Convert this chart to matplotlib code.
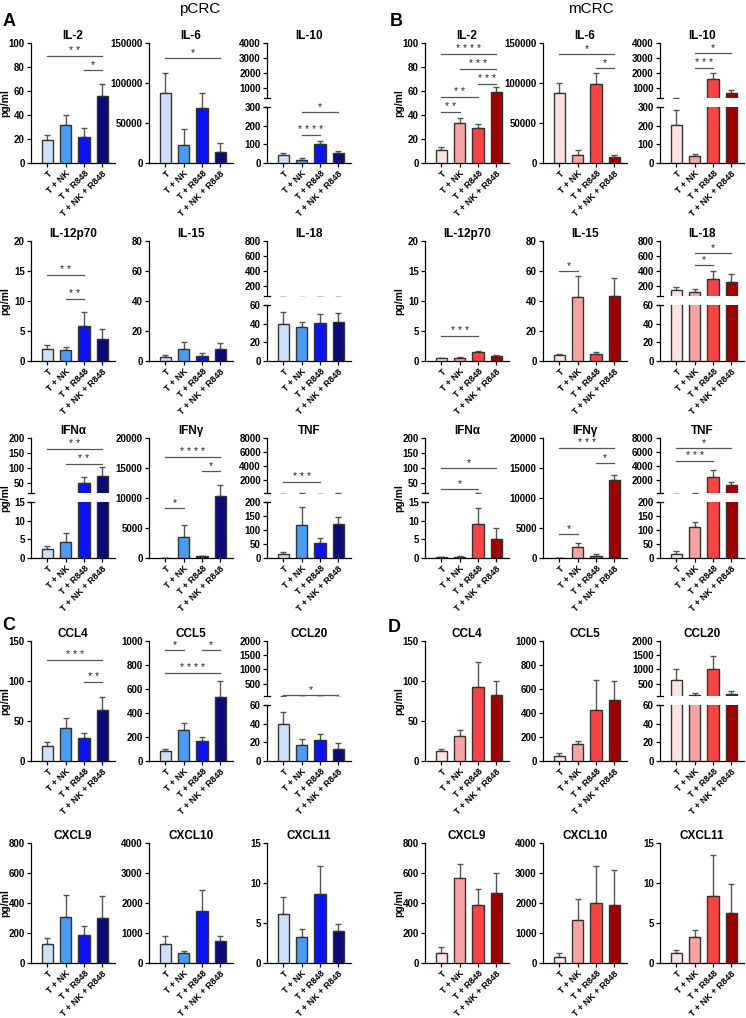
import matplotlib
matplotlib.use('Agg')
import matplotlib.pyplot as plt
import numpy as np

plt.rcParams['font.family'] = ['Liberation Sans', 'DejaVu Sans']

groups = ["T", "T + NK", "T + R848", "T + NK + R848"]
blue_colors = ["#cde0f7", "#4a9cf2", "#0a14f2", "#0a0a78"]
red_colors = ["#fde2e2", "#f8a2a2", "#f84444", "#a00000"]

cyto_names = ["IL-2", "IL-6", "IL-10", "IL-12p70", "IL-15", "IL-18", "IFNα", "IFNγ", "TNF"]
chemo_names = ["CCL4", "CCL5", "CCL20", "CXCL9", "CXCL10", "CXCL11"]

# simple y scales: (max, ticks)
full_scales = {
    "IL-2": (100, [0, 20, 40, 60, 80, 100]),
    "IL-6": (150000, [0, 50000, 100000, 150000]),
    "IL-12p70": (20, [0, 5, 10, 15, 20]),
    "IL-15": (80, [0, 20, 40, 60, 80]),
    "IFNγ": (20000, [0, 5000, 10000, 15000, 20000]),
    "CCL4": (150, [0, 50, 100, 150]),
    "CCL5": (1000, [0, 200, 400, 600, 800, 1000]),
    "CXCL9": (800, [0, 200, 400, 600, 800]),
    "CXCL10": (4000, [0, 1000, 2000, 3000, 4000]),
    "CXCL11": (15, [0, 5, 10, 15]),
}
# broken y scales: (lower range, lower ticks, upper range, upper ticks)
broken_scales = {
    "IL-10": ((0, 300), [0, 100, 200, 300], (300, 4000), [1000, 2000, 3000, 4000]),
    "IL-18": ((0, 60), [0, 20, 40, 60], (60, 800), [200, 400, 600, 800]),
    "IFNα": ((0, 15), [0, 5, 10, 15], (15, 200), [50, 100, 150, 200]),
    "TNF": ((0, 200), [0, 50, 100, 150, 200], (200, 8000), [2000, 4000, 6000, 8000]),
    "CCL20": ((0, 60), [0, 20, 40, 60], (60, 2000), [500, 1000, 1500, 2000]),
}

# pCRC means / SEM
pcrc_mean = {
    "IL-2": [19, 32, 22, 56], "IL-6": [88000, 23000, 69000, 14000], "IL-10": [45, 18, 103, 55],
    "IL-12p70": [2.0, 1.8, 5.9, 3.7], "IL-15": [3, 8, 3.5, 8], "IL-18": [40, 36, 41, 42],
    "IFNα": [2.5, 4.2, 47, 71], "IFNγ": [0, 3500, 300, 10300], "TNF": [15, 118, 53, 120],
    "CCL4": [19, 41, 29, 64], "CCL5": [80, 255, 165, 530], "CCL20": [40, 17, 23, 12.5],
    "CXCL9": [125, 310, 190, 300], "CXCL10": [650, 330, 1750, 750], "CXCL11": [6.1, 3.3, 8.6, 4.0],
}
pcrc_sem = {
    "IL-2": [4, 8, 7, 10], "IL-6": [25000, 19000, 18000, 11000], "IL-10": [10, 7, 17, 10],
    "IL-12p70": [0.6, 0.5, 2.2, 1.6], "IL-15": [1, 5, 2, 4], "IL-18": [12, 6, 9, 9],
    "IFNα": [0.8, 2.4, 23, 32], "IFNγ": [0, 2000, 100, 1800], "TNF": [5, 64, 17, 27],
    "CCL4": [5, 13, 6, 16], "CCL5": [20, 65, 35, 140], "CCL20": [12, 7, 6, 7],
    "CXCL9": [45, 145, 55, 145], "CXCL10": [250, 70, 700, 160], "CXCL11": [2.1, 1.0, 3.5, 0.9],
}
# mCRC means / SEM
mcrc_mean = {
    "IL-2": [11, 33, 29.5, 59], "IL-6": [87000, 10000, 99000, 7500], "IL-10": [205, 35, 1550, 650],
    "IL-12p70": [0.5, 0.55, 1.5, 0.9], "IL-15": [4.2, 43, 5, 43.5], "IL-18": [140, 110, 295, 250],
    "IFNα": [0.3, 0.4, 9, 5], "IFNγ": [0, 1800, 400, 13000], "TNF": [15, 110, 2450, 1300],
    "CCL4": [12, 31, 93, 83], "CCL5": [45, 140, 425, 505], "CCL20": [630, 100, 1000, 120],
    "CXCL9": [70, 570, 385, 465], "CXCL10": [200, 1450, 2000, 1930], "CXCL11": [1.2, 3.2, 8.4, 6.3],
}
mcrc_sem = {
    "IL-2": [2.5, 4.5, 3, 4], "IL-6": [13000, 6000, 14000, 3000], "IL-10": [80, 15, 450, 200],
    "IL-12p70": [0.05, 0.05, 0.2, 0.15], "IL-15": [0.3, 13.5, 0.7, 12], "IL-18": [45, 45, 105, 100],
    "IFNα": [0.1, 0.2, 4.4, 3], "IFNγ": [0, 700, 200, 900], "TNF": [10, 20, 1050, 500],
    "CCL4": [3, 8, 31, 17], "CCL5": [20, 30, 250, 165], "CCL20": [370, 50, 480, 100],
    "CXCL9": [35, 90, 110, 135], "CXCL10": [130, 670, 1250, 1170], "CXCL11": [0.4, 0.9, 5.1, 3.6],
}
# significance brackets: (group i, group j, height, stars)
pcrc_sig = {
    "IL-2": [(0, 3, 89, "**"), (2, 3, 77.5, "*")],
    "IL-6": [(0, 3, 131000, "*")],
    "IL-10": [(1, 3, 273, "*"), (1, 2, 150, "****")],
    "IL-12p70": [(0, 2, 14.3, "**"), (1, 2, 10.4, "**")],
    "IFNα": [(0, 3, 163, "**"), (1, 3, 113, "**")],
    "IFNγ": [(0, 3, 16800, "****"), (2, 3, 14450, "*"), (0, 1, 8400, "*")],
    "TNF": [(0, 2, 1700, "***")],
    "CCL4": [(0, 3, 126, "***"), (2, 3, 99, "**")],
    "CCL5": [(0, 1, 925, "*"), (2, 3, 925, "*"), (0, 3, 733, "****")],
    "CCL20": [(0, 3, 100, "*")],
}
mcrc_sig = {
    "IL-2": [(0, 3, 91, "****"), (1, 3, 78, "***"), (2, 3, 66, "***"), (0, 2, 55, "**"), (0, 1, 42.5, "**")],
    "IL-6": [(0, 3, 136000, "*"), (2, 3, 118750, "*")],
    "IL-10": [(1, 3, 3333, "*"), (1, 2, 2333, "***")],
    "IL-12p70": [(0, 2, 4.2, "***")],
    "IL-15": [(0, 1, 60, "*")],
    "IL-18": [(1, 3, 640, "*"), (1, 2, 480, "*")],
    "IFNα": [(0, 3, 100, "*"), (0, 2, 27, "*")],
    "IFNγ": [(0, 3, 18300, "***"), (2, 3, 15800, "*"), (0, 1, 4000, "*")],
    "TNF": [(0, 3, 6570, "*"), (0, 2, 4700, "***")],
}

FW, FH = 746, 1018
fig = plt.figure(figsize=(FW / 100, FH / 100), dpi=100)


def px_rect(l, t, w, h):
    return [l / FW, 1 - (t + h) / FH, w / FW, h / FH]


EDGE = '#333333'
ERRC = '#555555'
SIGC = '#555555'


def style_y(ax, ticks):
    ax.set_yticks(ticks)
    ax.set_yticklabels([str(t) for t in ticks], fontsize=7, fontweight='bold')
    ax.tick_params(axis='y', direction='out', length=3, width=0.9, pad=1.5)
    for s in ['top', 'right']:
        ax.spines[s].set_visible(False)
    ax.spines['left'].set_linewidth(0.9)
    ax.spines['bottom'].set_linewidth(0.9)


def draw(name, left, top, means, sems, colors, sigs, ylabel):
    W, H = 84, 120
    x = np.arange(len(groups))
    if name in broken_scales:
        lo_rng, lo_ticks, up_rng, up_ticks = broken_scales[name]
        ax_up = fig.add_axes(px_rect(left, top, W, 55))
        ax_lo = fig.add_axes(px_rect(left, top + 64, W, 56))
        ax_up.set_ylim(*up_rng)
        ax_lo.set_ylim(*lo_rng)
        style_y(ax_up, up_ticks)
        style_y(ax_lo, lo_ticks)
        ax_up.spines['bottom'].set_visible(False)
        ax_up.tick_params(axis='x', bottom=False, labelbottom=False)
        for a, yy in [(ax_up, 0), (ax_lo, 1)]:
            a.plot([-0.04, 0.04], [yy, yy], transform=a.transAxes, color='k', lw=0.9, clip_on=False)
        axes = [ax_up, ax_lo]
        split = lo_rng[1]
    else:
        ymax, ticks = full_scales[name]
        ax_lo = fig.add_axes(px_rect(left, top, W, H))
        ax_lo.set_ylim(0, ymax)
        style_y(ax_lo, ticks)
        axes = [ax_lo]
        split = None
    for ax in axes:
        ax.bar(x, means, width=0.62, color=colors, edgecolor=EDGE, linewidth=1.0, zorder=3)
        ax.errorbar(x, means, yerr=[np.zeros(len(means)), sems], fmt='none', ecolor=ERRC,
                    elinewidth=1.0, capsize=2.5, capthick=1.0, zorder=2)
        ax.set_xlim(-0.9, 3.7)
    ax_lo.set_xticks(x)
    ax_lo.set_xticklabels(groups, rotation=45, ha='right', rotation_mode='anchor',
                          fontsize=6.5, fontweight='bold')
    ax_lo.tick_params(axis='x', direction='out', length=3, width=0.9, pad=1.2)
    axes[0].set_title(name, fontsize=8.5, fontweight='bold', pad=3)
    for (i, j, h, stars) in sigs:
        ax = axes[0] if (split is not None and h > split) else ax_lo
        ax.plot([i, j], [h, h], color=SIGC, lw=0.9, clip_on=False, zorder=4)
        ax.annotate(' '.join(stars), xy=((i + j) / 2, h), xytext=(0, 0), textcoords='offset points',
                    ha='center', va='bottom', fontsize=7.5, color='#222222', annotation_clip=False)
    if ylabel:
        fig.text((left - 26) / FW, 1 - (top + H / 2) / FH, 'pg/ml', rotation=90,
                 ha='center', va='center', fontsize=7.5, fontweight='bold')


row_tops_cyto = [43, 241, 438]
row_tops_chemo = [641, 843]
cols_left_p = [31, 149, 267]
cols_left_m = [425, 543, 660]

for k, name in enumerate(cyto_names):
    r, c = divmod(k, 3)
    draw(name, cols_left_p[c], row_tops_cyto[r], pcrc_mean[name], pcrc_sem[name], blue_colors,
         pcrc_sig.get(name, []), c == 0)
    draw(name, cols_left_m[c], row_tops_cyto[r], mcrc_mean[name], mcrc_sem[name], red_colors,
         mcrc_sig.get(name, []), c == 0)

for k, name in enumerate(chemo_names):
    r, c = divmod(k, 3)
    draw(name, cols_left_p[c], row_tops_chemo[r], pcrc_mean[name], pcrc_sem[name], blue_colors,
         pcrc_sig.get(name, []), c == 0)
    draw(name, cols_left_m[c], row_tops_chemo[r], mcrc_mean[name], mcrc_sem[name], red_colors,
         mcrc_sig.get(name, []), c == 0)

fig.text(200 / FW, 1 - 9 / FH, 'pCRC', ha='center', va='center', fontsize=11)
fig.text(591 / FW, 1 - 9 / FH, 'mCRC', ha='center', va='center', fontsize=11)
for lbl, px, py in [('A', 9, 22), ('B', 396, 22), ('C', 9, 625), ('D', 394, 627)]:
    fig.text(px / FW, 1 - py / FH, lbl, ha='center', va='center', fontsize=13, fontweight='bold')

fig.savefig('out.png', dpi=100)
